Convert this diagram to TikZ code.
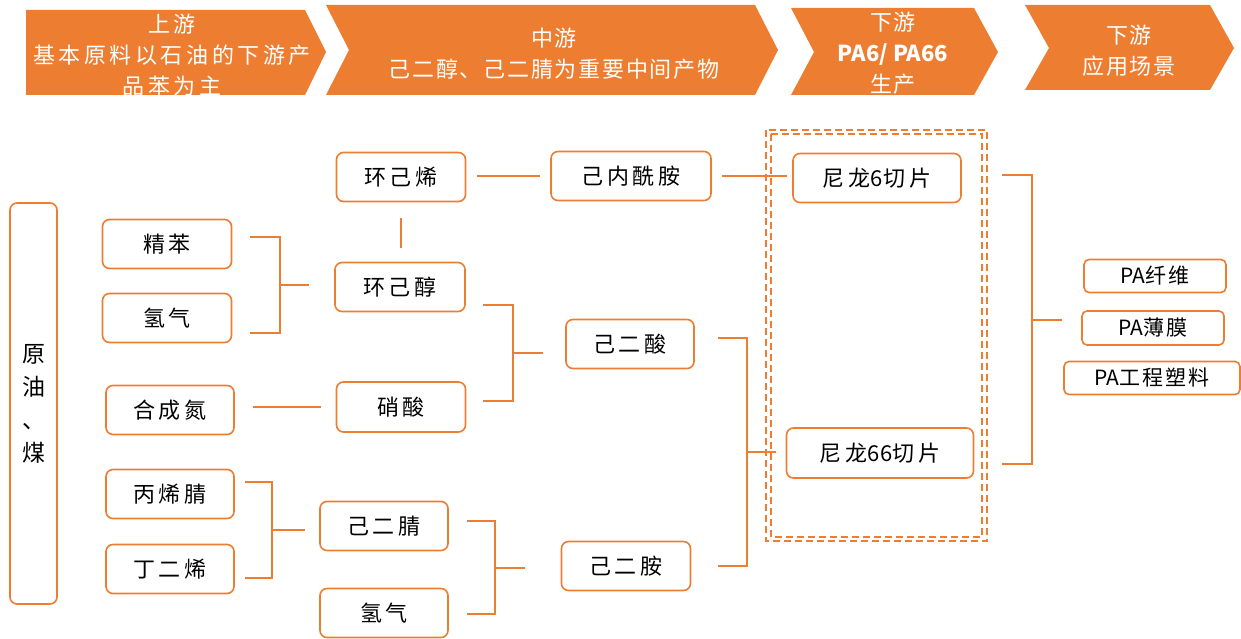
\documentclass[tikz,border=0pt]{standalone}
\usepackage{fontspec}
\setmainfont{Noto Sans CJK SC}
\definecolor{org}{HTML}{ED7D31}
\newcommand{\nodefont}{\fontsize{22}{27}\selectfont\addfontfeature{LetterSpace=18}}
\newcommand{\pafont}{\fontsize{21}{24}\selectfont\addfontfeature{LetterSpace=10}}
\newcommand{\hdfontA}{\fontsize{22}{31}\selectfont\addfontfeature{LetterSpace=16}}
\newcommand{\hdfontB}{\fontsize{22}{31}\selectfont\addfontfeature{LetterSpace=8}}
\newcommand{\nols}{\addfontfeature{LetterSpace=0}}
\tikzset{
  box/.style={draw=org, line width=1.6pt, rounded corners=7pt, fill=white, text=black,
    inner sep=0pt, font=\nodefont},
  smallbox/.style={box, rounded corners=5pt, font=\pafont},
  conn/.style={draw=org, line width=1.6pt},
  chev/.style={fill=org, draw=none},
  hdtext/.style={text=white, align=center, inner sep=0pt, font=\hdfontB},
  dbl/.style={draw=org, line width=2pt, dash pattern=on 7pt off 4pt}
}
\begin{document}
\begin{tikzpicture}[x=1pt,y=-1pt]
\useasboundingbox (0,0) rectangle (1241,639);
% header chevrons
\fill[chev] (26,10) -- (305,10) -- (326,52) -- (305,95) -- (26,95) -- cycle;
\fill[chev] (326,5) -- (755,5) -- (778,50) -- (755,95) -- (326,95) -- (349,50) -- cycle;
\fill[chev] (791,8) -- (974,8) -- (998,52) -- (974,95) -- (791,95) -- (814,52) -- cycle;
\fill[chev] (1025,5) -- (1210,5) -- (1234,48) -- (1210,90) -- (1025,90) -- (1049,48) -- cycle;
\node[hdtext, font=\hdfontA] (h1) at (172,55) {上游\\基本原料以石油的下游产\\品苯为主};
\node[hdtext] (h2) at (554,54) {中游\\己二醇、己二腈为重要中间产物};
\node[hdtext] (h3) at (893,53) {下游\\{\nols\bfseries PA6/ PA66}\\生产};
\node[hdtext] (h4) at (1129,51) {下游\\应用场景};
% dashed double box
\draw[dbl] (766,130) rectangle (987,541);
\draw[dbl] (771,134) rectangle (982,537);
% nodes
\node[box, minimum width=47pt, minimum height=401pt, align=center,
  font=\fontsize{23}{33}\selectfont] (yy) at (33.5,403.5) {原\\油\\、\\煤};
\node[box, minimum width=129pt, minimum height=49pt] (jb) at (167,244) {精苯};
\node[box, minimum width=129pt, minimum height=49pt] (qq1) at (167,318) {氢气};
\node[box, minimum width=128pt, minimum height=49pt] (hcd) at (170,410) {合成氮};
\node[box, minimum width=128pt, minimum height=49pt] (bxj) at (170,494) {丙烯腈};
\node[box, minimum width=128pt, minimum height=49pt] (dex) at (170,569) {丁二烯};
\node[box, minimum width=129pt, minimum height=49pt] (hjx) at (401,177) {环己烯};
\node[box, minimum width=130pt, minimum height=49pt] (hjc) at (400,287) {环己醇};
\node[box, minimum width=129pt, minimum height=50pt] (xs) at (401,407) {硝酸};
\node[box, minimum width=128pt, minimum height=49pt] (jej) at (384,526) {己二腈};
\node[box, minimum width=128pt, minimum height=49pt] (qq2) at (384,613) {氢气};
\node[box, minimum width=160pt, minimum height=49pt] (jnx) at (631,176) {己内酰胺};
\node[box, minimum width=128pt, minimum height=49pt] (jes) at (630,344) {己二酸};
\node[box, minimum width=129pt, minimum height=49pt] (jea) at (626,566) {己二胺};
\node[box, minimum width=168pt, minimum height=49pt] (n6) at (877,178) {尼龙{\nols 6}切片};
\node[box, minimum width=187pt, minimum height=50pt] (n66) at (880,453) {尼龙{\nols 66}切片};
\node[smallbox, minimum width=142pt, minimum height=33pt] (pa1) at (1155,276) {{\nols PA}纤维};
\node[smallbox, minimum width=142pt, minimum height=34pt] (pa2) at (1153,328) {{\nols PA}薄膜};
\node[smallbox, minimum width=176pt, minimum height=33pt] (pa3) at (1152,378) {{\nols PA}工程塑料};
% connector end points
\coordinate (a1) at (250,237); \coordinate (a2) at (250,333);
\coordinate (a3) at (280,285); \coordinate (a4) at (309,285);
\coordinate (b1) at (483,305); \coordinate (b2) at (483,401);
\coordinate (b3) at (513,353); \coordinate (b4) at (543,353);
\coordinate (c1) at (253,407); \coordinate (c2) at (321,407);
\coordinate (d1) at (401,218); \coordinate (d2) at (401,248);
\coordinate (e1) at (477,176); \coordinate (e2) at (540,176);
\coordinate (f1) at (722,176); \coordinate (f2) at (787,176);
\coordinate (g1) at (718,338); \coordinate (g2) at (718,566);
\coordinate (g3) at (747,452); \coordinate (g4) at (776,452);
\coordinate (k1) at (245,482); \coordinate (k2) at (245,578);
\coordinate (k3) at (272,530); \coordinate (k4) at (305,530);
\coordinate (m1) at (467,521); \coordinate (m2) at (467,614);
\coordinate (m3) at (495,568); \coordinate (m4) at (525,568);
\coordinate (r1) at (1002,175); \coordinate (r2) at (1002,464);
\coordinate (r3) at (1032,320); \coordinate (r4) at (1062,320);
% connectors
\draw[conn] (a1) -| (a3) |- (a2); \draw[conn] (a3) -- (a4);
\draw[conn] (b1) -| (b3) |- (b2); \draw[conn] (b3) -- (b4);
\draw[conn] (c1) -- (c2);
\draw[conn] (d1) -- (d2);
\draw[conn] (e1) -- (e2);
\draw[conn] (f1) -- (f2);
\draw[conn] (g1) -| (g3) |- (g2); \draw[conn] (g3) -- (g4);
\draw[conn] (k1) -| (k3) |- (k2); \draw[conn] (k3) -- (k4);
\draw[conn] (m1) -| (m3) |- (m2); \draw[conn] (m3) -- (m4);
\draw[conn] (r1) -| (r3) |- (r2); \draw[conn] (r3) -- (r4);
\end{tikzpicture}
\end{document}
